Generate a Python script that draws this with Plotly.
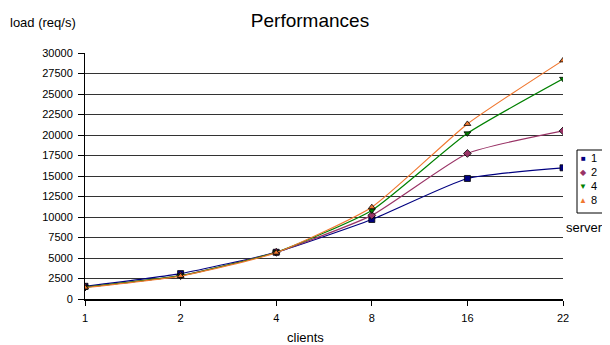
import plotly.graph_objects as go

clients = ["1", "2", "4", "8", "16", "22"]
s1 = [1550, 3100, 5700, 9700, 14700, 16000]
s2 = [1450, 2850, 5700, 10200, 17750, 20500]
s4 = [1450, 2850, 5700, 10800, 20200, 26850]
s8 = [1400, 2800, 5650, 11200, 21350, 29100]
series_names = ["1", "2", "4", "8"]
series_vals = [s1, s2, s4, s8]
colors = ["#000080", "#993366", "#008000", "#F07830"]
symbols = ["square", "diamond", "triangle-down", "triangle-up"]
glyphs = ["\u25A0", "\u25C6", "\u25BC", "\u25B2"]

OFF = 8  # page body margin
W, H = 610 - OFF, 345 - OFF
L, R, T, B = 85 - OFF, 563 - OFF, 53 - OFF, 299 - OFF

def px(x):
    return (x - OFF - L) / (R - L)

def py(y):
    return (B - (y - OFF)) / (B - T)

fig = go.Figure()
for name, vals, c, sym in zip(series_names, series_vals, colors, symbols):
    fig.add_trace(go.Scatter(
        x=clients, y=vals, name=name, mode="lines+markers",
        line=dict(color=c, width=1.2, shape="spline", smoothing=0.5),
        marker=dict(symbol=sym, size=6, color=c, line=dict(color="#000000", width=0.8)),
        showlegend=False,
    ))

font = "Liberation Sans, Arial, sans-serif"
fig.update_layout(
    width=W, height=H,
    margin=dict(l=L, r=W - R, t=T, b=H - B),
    paper_bgcolor="white", plot_bgcolor="white",
    font=dict(family=font, size=11, color="#000000"),
    title=dict(text="Performances", x=(310 - OFF) / W, xref="container", xanchor="center",
               y=1 - (20 - OFF) / H, yref="container", yanchor="middle",
               font=dict(size=19, family=font, color="#000000")),
    xaxis=dict(type="category", range=[0, 5], showgrid=False, showline=True,
               linecolor="#000000", linewidth=2, ticks="outside", ticklen=5,
               tickcolor="#000000", tickfont=dict(size=11), zeroline=False,
               ticklabelstandoff=3),
    yaxis=dict(range=[0, 30000], dtick=2500, tickformat="d", showgrid=True,
               gridcolor="#333333", gridwidth=1, showline=True, linecolor="#000000",
               linewidth=1, ticks="outside", ticklen=6, tickcolor="#000000",
               tickfont=dict(size=11), zeroline=False, ticklabelstandoff=3),
)

ann = [
    dict(text="load (req/s)", x=px(8), y=py(22), xref="paper", yref="paper",
         xanchor="left", yanchor="middle", showarrow=False, font=dict(size=13)),
    dict(text="clients", x=px(305), y=py(337), xref="paper", yref="paper",
         xanchor="center", yanchor="middle", showarrow=False, font=dict(size=13)),
    dict(text="server", x=px(564), y=py(227), xref="paper", yref="paper",
         xanchor="left", yanchor="middle", showarrow=False, font=dict(size=13)),
]
legend_y = [158, 172, 186, 200]
for g, c, name, yy in zip(glyphs, colors, series_names, legend_y):
    ann.append(dict(text=g, x=px(583), y=py(yy), xref="paper", yref="paper",
                    xanchor="center", yanchor="middle", showarrow=False,
                    font=dict(size=8, color=c)))
    ann.append(dict(text=name, x=px(589), y=py(yy), xref="paper", yref="paper",
                    xanchor="left", yanchor="middle", showarrow=False,
                    font=dict(size=11)))
fig.update_layout(annotations=ann)
fig.add_shape(type="rect", xref="paper", yref="paper",
              x0=px(577), x1=px(620), y0=py(213), y1=py(150),
              line=dict(color="#000000", width=1), fillcolor="rgba(0,0,0,0)")

fig.write_html("out.html")
